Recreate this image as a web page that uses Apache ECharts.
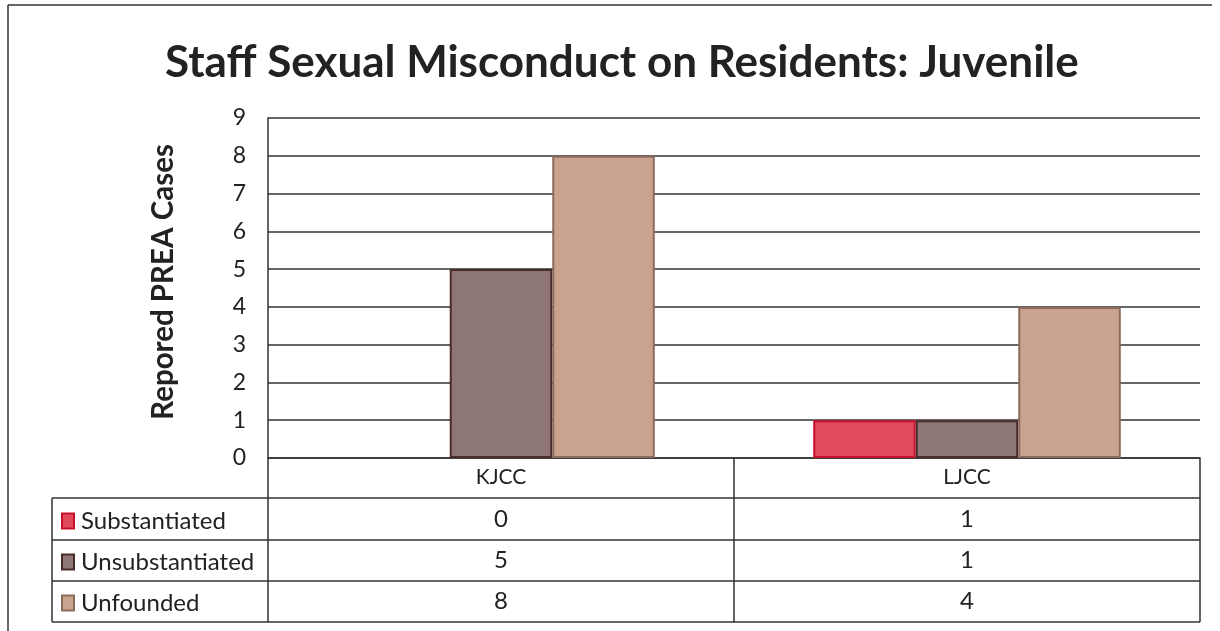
<!DOCTYPE html>
<html>
<head>
<meta charset="utf-8">
<script src="https://cdn.jsdelivr.net/npm/echarts@6/dist/echarts.min.js"></script>
<style>
html, body { margin: 0; padding: 0; background: #fff; }
#main { width: 1220px; height: 631px; }
</style>
</head>
<body>
<div id="main"></div>
<script>
var categories = ["KJCC", "LJCC"];
var seriesNames = ["Substantiated", "Unsubstantiated", "Unfounded"];
var substantiated = [0, 1];
var unsubstantiated = [5, 1];
var unfounded = [8, 4];
var yTicks = [0, 1, 2, 3, 4, 5, 6, 7, 8, 9];

var fillColors = ["#E04A5C", "#8E7676", "#C9A38F"];
var edgeColors = ["#C8102E", "#4A2C2C", "#8C6B5C"];
var font = "Lato, 'Open Sans', sans-serif";

var chart = echarts.init(document.getElementById("main"));

var allData = [substantiated, unsubstantiated, unfounded];
var seriesList = [];
for (var i = 0; i < seriesNames.length; i++) {
	// zero values get no outline, so no stray line on the axis
	var items = allData[i].map(function(v) {
		return v === 0 ? { value: v, itemStyle: { borderWidth: 0 } } : v;
	});
	seriesList.push({
		name: seriesNames[i],
		type: "bar",
		data: items,
		barGap: "0%",
		barCategoryGap: "34%",
		itemStyle: { color: fillColors[i], borderColor: edgeColors[i], borderWidth: 2 }
	});
}

var option = {
	animation: false,
	backgroundColor: "#fff",
	title: {
		text: "Staff Sexual Misconduct on Residents: Juvenile",
		left: 160,
		top: 36,
		textStyle: { fontFamily: font, fontSize: 44, fontWeight: "bold", color: "#222" }
	},
	legend: {
		orient: "vertical",
		left: 56,
		top: 504,
		itemWidth: 12,
		itemHeight: 15,
		itemGap: 17,
		icon: "rect",
		data: seriesNames,
		textStyle: { fontFamily: font, fontSize: 24, color: "#222", lineHeight: 24, padding: [0, 0, 0, 2] }
	},
	grid: { left: 268, right: 20, top: 118, bottom: 173 },
	xAxis: {
		type: "category",
		data: categories,
		axisLine: { lineStyle: { color: "#333", width: 1.5 } },
		axisTick: { show: true, length: 164, lineStyle: { color: "#333", width: 1.5 } },
		axisLabel: { fontFamily: font, fontSize: 21, color: "#222", margin: 9 }
	},
	yAxis: {
		type: "value",
		min: yTicks[0],
		max: yTicks[yTicks.length - 1],
		interval: 1,
		name: "Repored PREA Cases",
		nameLocation: "middle",
		nameGap: 90,
		nameTextStyle: { fontFamily: font, fontSize: 29.5, fontWeight: "bold", color: "#222", padding: [0, 0, 0, 12] },
		axisLine: { show: true, lineStyle: { color: "#333", width: 1.5 } },
		axisTick: { show: false },
		axisLabel: { fontFamily: font, fontSize: 23, color: "#222", margin: 22 },
		splitLine: { lineStyle: { color: "#333", width: 1.5 } }
	},
	series: seriesList
};
chart.setOption(option);

// data table under the axis, values read from the arrays
var rowTops = [498, 540, 581, 622];
var graphics = [];
for (var r = 0; r < rowTops.length; r++) {
	graphics.push({
		type: "line",
		shape: { x1: 52, y1: rowTops[r], x2: 1200, y2: rowTops[r] },
		style: { stroke: "#333", lineWidth: 1.5 }
	});
}
graphics.push({ type: "line", shape: { x1: 52, y1: 498, x2: 52, y2: 622 }, style: { stroke: "#333", lineWidth: 1.5 } });
for (var s = 0; s < allData.length; s++) {
	for (var c = 0; c < categories.length; c++) {
		var px = chart.convertToPixel({ xAxisIndex: 0 }, categories[c]);
		graphics.push({
			type: "text",
			x: px,
			y: (rowTops[s] + rowTops[s + 1]) / 2,
			style: {
				text: String(allData[s][c]), fontFamily: font, fontSize: 24, fill: "#222",
				align: "center", verticalAlign: "middle"
			}
		});
	}
}
// outer frame
graphics.push({ type: "line", shape: { x1: 8, y1: 5, x2: 1212, y2: 5 }, style: { stroke: "#333", lineWidth: 1.5 } });
graphics.push({ type: "line", shape: { x1: 8, y1: 5, x2: 8, y2: 631 }, style: { stroke: "#333", lineWidth: 1.5 } });
chart.setOption({ graphic: graphics });
</script>
</body>
</html>
